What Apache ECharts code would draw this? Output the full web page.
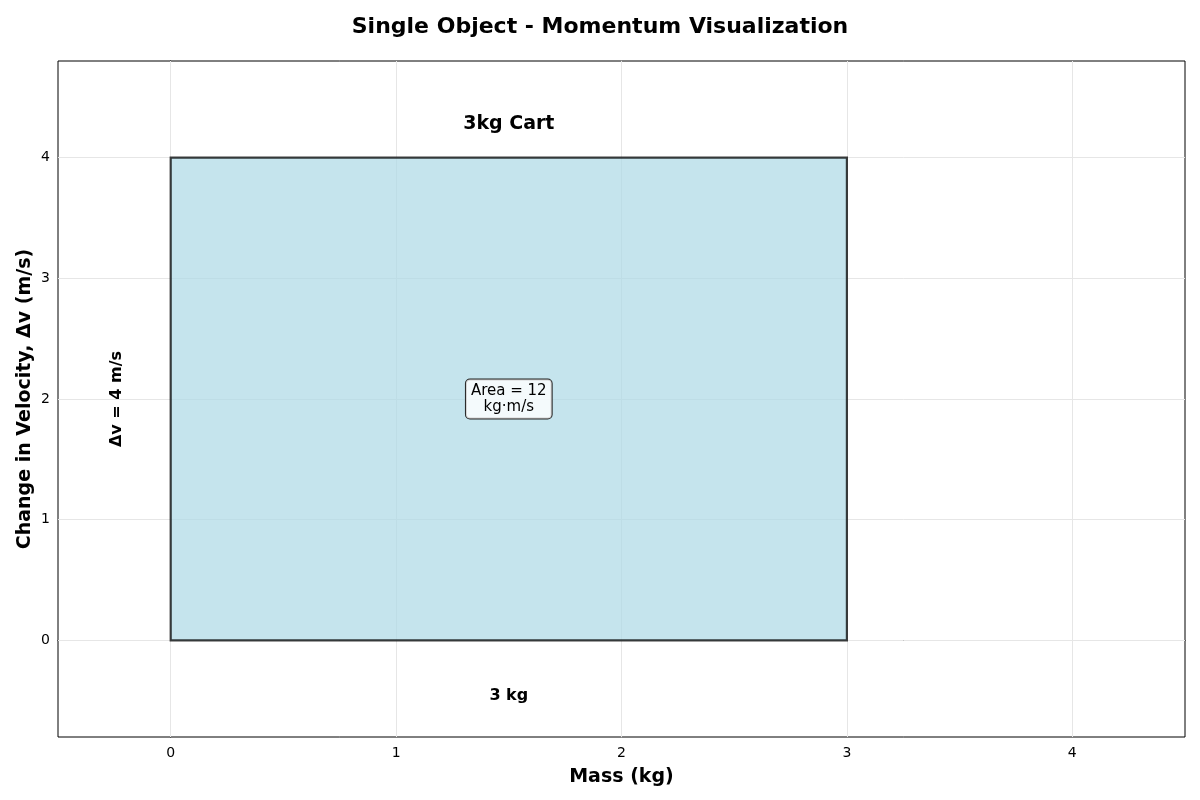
<!DOCTYPE html>
<html>
<head>
<meta charset="utf-8">
<script src="https://cdn.jsdelivr.net/npm/echarts@6/dist/echarts.min.js"></script>
<style>
html,body{margin:0;padding:0;background:#fff}
#chart{width:1200px;height:800px}
</style>
</head>
<body>
<div id="chart"></div>
<script>
// data
var objectNames = ['3kg Cart'];
var masses = [3];        // kg
var deltaVs = [4];       // m/s
var xTicks = [0, 1, 2, 3, 4];
var yTicks = [0, 1, 2, 3, 4];

var FONT = 'DejaVu Sans';
var chart = echarts.init(document.getElementById('chart'));

var rectData = objectNames.map(function (n, i) { return [masses[i], deltaVs[i], n]; });

// grid lines as markLines built from tick arrays
var gridLines = [];
xTicks.forEach(function (v) { gridLines.push({ xAxis: v }); });
yTicks.forEach(function (v) { gridLines.push({ yAxis: v }); });

function renderBox(params, api) {
    var m = api.value(0), v = api.value(1);
    var p0 = api.coord([0, 0]);
    var p1 = api.coord([m, v]);
    var mid = api.coord([m / 2, v / 2]);
    var top = api.coord([m / 2, v + 0.28]);
    var bot = api.coord([m / 2, -0.46]);
    var side = api.coord([-0.24, v / 2]);
    return {
        type: 'group',
        children: [
            {
                type: 'rect',
                shape: { x: p0[0], y: p1[1], width: p1[0] - p0[0], height: p0[1] - p1[1] },
                style: { fill: 'rgba(173,216,230,0.7)', stroke: 'rgba(0,0,0,0.75)', lineWidth: 2.2 }
            },
            {
                type: 'text',
                x: top[0], y: top[1],
                style: {
                    text: objectNames[params.dataIndex], align: 'center', verticalAlign: 'middle',
                    font: 'bold 19px ' + FONT, fill: '#000'
                }
            },
            {
                type: 'text',
                x: bot[0], y: bot[1],
                style: {
                    text: m + ' kg', align: 'center', verticalAlign: 'middle',
                    font: 'bold 16px ' + FONT, fill: '#000'
                }
            },
            {
                type: 'text',
                x: side[0], y: side[1], rotation: Math.PI / 2,
                style: {
                    text: '\u0394v = ' + v + ' m/s', align: 'center', verticalAlign: 'middle',
                    font: 'bold 16px ' + FONT, fill: '#000'
                }
            },
            {
                type: 'text',
                x: mid[0], y: mid[1],
                style: {
                    text: 'Area = ' + (m * v) + '\nkg\u00b7m/s', align: 'center', verticalAlign: 'middle',
                    font: '15px ' + FONT, lineHeight: 16, fill: '#000',
                    backgroundColor: 'rgba(255,255,255,0.8)', borderColor: '#222', borderWidth: 1,
                    borderRadius: 4, padding: [4, 5, 3, 5]
                }
            }
        ]
    };
}

var option = {
    animation: false,
    backgroundColor: '#fff',
    title: {
        text: 'Single Object - Momentum Visualization',
        left: 'center', top: 11,
        textStyle: { fontFamily: FONT, fontSize: 22, fontWeight: 'bold', color: '#000' }
    },
    grid: {
        left: 58, right: 15, top: 61, bottom: 63,
        show: true, borderColor: '#000', borderWidth: 1, backgroundColor: 'transparent'
    },
    xAxis: {
        type: 'value', min: -0.5, max: 4.5,
        name: 'Mass (kg)', nameLocation: 'middle', nameGap: 31, nameMoveOverlap: false,
        nameTextStyle: { fontFamily: FONT, fontSize: 19, fontWeight: 'bold', color: '#000' },
        axisLine: { show: true, lineStyle: { color: '#000', width: 1 } },
        axisTick: { show: true, length: 4, customValues: xTicks, lineStyle: { color: '#000' } },
        axisLabel: { customValues: xTicks, margin: 9, fontFamily: FONT, fontSize: 14, color: '#000' },
        splitLine: { show: false }
    },
    yAxis: {
        type: 'value', min: -0.8, max: 4.8,
        name: 'Change in Velocity, \u0394v (m/s)', nameLocation: 'middle', nameGap: 23, nameMoveOverlap: false,
        nameTextStyle: { fontFamily: FONT, fontSize: 19, fontWeight: 'bold', color: '#000' },
        axisLine: { show: true, lineStyle: { color: '#000', width: 1 } },
        axisTick: { show: true, length: 4, customValues: yTicks, lineStyle: { color: '#000' } },
        axisLabel: { customValues: yTicks, margin: 8, fontFamily: FONT, fontSize: 14, color: '#000' },
        splitLine: { show: false }
    },
    series: [
        {
            type: 'line', data: [], silent: true, z: 1,
            markLine: {
                silent: true, symbol: 'none', animation: false, z: 1,
                label: { show: false },
                lineStyle: { color: '#e6e6e6', type: 'solid', width: 1 },
                data: gridLines
            }
        },
        {
            type: 'custom', z: 10,
            renderItem: renderBox,
            data: rectData
        }
    ]
};
chart.setOption(option);
</script>
</body>
</html>
